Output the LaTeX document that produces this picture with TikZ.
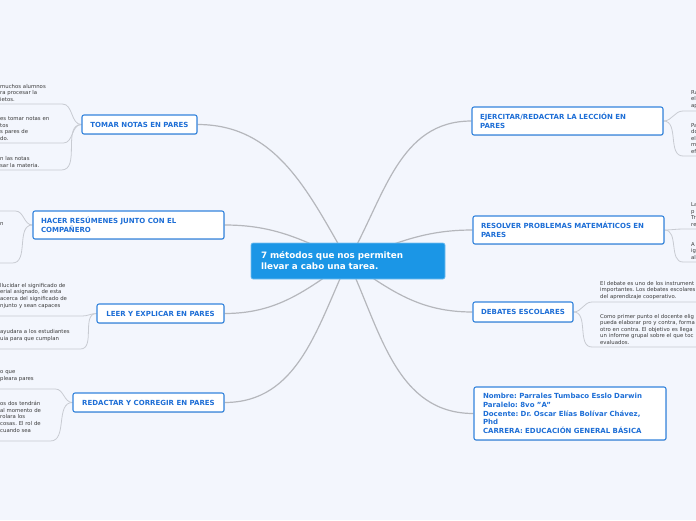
\documentclass[tikz,border=0pt]{standalone}
\usepackage{fontspec}
\setmainfont{DejaVu Sans}
\usepackage{xcolor}
\usetikzlibrary{positioning, backgrounds, shadows}
\frenchspacing

\definecolor{bgblue}{HTML}{F3F6FD}
\definecolor{boxline}{HTML}{3384DD}
\definecolor{boxtext}{HTML}{1D6ED6}
\definecolor{hubblue}{HTML}{1B96E6}
\definecolor{leafgray}{HTML}{3A3A3A}
\definecolor{branchgray}{HTML}{B5B7BC}
\definecolor{twiggray}{HTML}{C8CBD2}

\begin{document}
\begin{tikzpicture}[
    x=1pt, y=1pt,
    topic/.style={draw=boxline, line width=1.1pt, rounded corners=2pt, fill=white,
                  text=boxtext, font=\fontsize{7}{9}\selectfont\bfseries,
                  minimum width=#1, minimum height=19pt, inner xsep=8pt, inner ysep=4.5pt,
                  drop shadow={opacity=0.18, shadow xshift=0.5pt, shadow yshift=-0.9pt}},
    topic/.default=10pt,
    topictwo/.style={topic, text width=#1, align=left, minimum height=28pt},
    hub/.style={fill=hubblue, draw=hubblue!60!white, line width=0.6pt, rounded corners=2pt,
                text=white, font=\fontsize{8.8}{11}\selectfont\bfseries,
                text width=174pt, align=left, inner xsep=10pt, minimum height=36pt},
    leaf/.style={font=\fontsize{5.35}{6.6}\selectfont, text=leafgray, align=left,
                 inner xsep=8pt, inner ysep=2.2pt, anchor=south west},
    branch/.style={draw=branchgray, line width=1.2pt},
    twig/.style={draw=twiggray, line width=0.8pt}
]
\useasboundingbox (0,0) rectangle (696,-520);

% Central topic
\node[hub] (root) at (348,-261) {7 métodos que nos permiten\\llevar a cabo una tarea.};

% Left branches
\node[topic=115pt] (tomar) at (139.5,-124.5) {TOMAR NOTAS EN PARES};
\node[topictwo=175pt] (hacer) at (128.5,-225) {HACER RESÚMENES JUNTO CON EL\\COMPAÑERO};
\node[topic=127pt] (leer) at (160.5,-313.5) {LEER Y EXPLICAR EN PARES};
\node[topic=151pt] (redac) at (148.5,-402.5) {REDACTAR Y CORREGIR EN PARES};

% Right branches
\node[topictwo=175pt] (ejer) at (567.5,-121) {EJERCITAR/REDACTAR LA LECCIÓN EN\\PARES};
\node[topictwo=175pt] (resol) at (568.5,-230) {RESOLVER PROBLEMAS MATEMÁTICOS EN\\PARES};
\node[topic=100pt, minimum height=20pt] (debat) at (523,-312) {DEBATES ESCOLARES};
\node[topictwo=174pt, font=\fontsize{7}{8.6}\selectfont\bfseries, inner xsep=9pt,
      minimum height=53pt] (datos) at (570,-413.5)
     {Nombre: Parrales Tumbaco Esslo Darwin\\Paralelo: 8vo \symbol{34}A\symbol{34}\\Docente: Dr. Oscar Elías Bolívar Chávez,\\Phd\\CARRERA: EDUCACIÓN GENERAL BÁSICA};

% Notes on the left (cut by the page edge)
\node[leaf, text width=54pt] (tomA) at (-8,-104) {muchos alumnos\\ra procesar la\\ietos.};
\node[leaf, text width=55pt] (tomB) at (-8,-143) {es tomar notas en\\tos\\s pares de\\do.};
\node[leaf, text width=53pt] (tomC) at (-8,-170) {n las notas\\sar la materia.};
\node[leaf, text width=7pt] (hacA) at (-8,-211) {};
\node[leaf, text width=4pt] (hacB) at (-8,-263) {n\\[29pt]\mbox{}};
\node[leaf, text width=74pt] (leeA) at (-8,-316) {llucidar el significado de\\erial asignado, de esta\\acerca del significado de\\njunto y sean capaces\\\mbox{}};
\node[leaf, text width=72pt] (leeB) at (-8,-349) {ayudara a los estudiantes\\uia para que cumplan\\\mbox{}};
\node[leaf, text width=47pt] (redA) at (-8,-389) {o que\\pleara pares\\\mbox{}};
\node[leaf, text width=42pt] (redB) at (-8,-441) {os dos tendrán\\al momento de\\rolara los\\cosas. El rol de\\cuando sea\\\mbox{}};

% Notes on the right (cut by the page edge)
\node[leaf, text width=200pt] (ejeA) at (683,-111) {Ra\\el\\ap};
\node[leaf, text width=200pt] (ejeB) at (683,-156) {Pa\\do\\el\\m\\ef};
\node[leaf, text width=200pt] (resA) at (683,-229) {La\\p\\Tr\\re};
\node[leaf, text width=200pt] (resB) at (683,-262) {A\\ig\\al};
\node[leaf, text width=200pt] (debA) at (592,-302) {El debate es uno de los instrument\\importantes. Los debates escolares\\del aprendizaje cooperativo.};
\node[leaf, text width=200pt] (debB) at (592,-347) {Como primer punto el docente elig\\pueda elaborar pro y contra, forma\\otro en contra. El objetivo es llega\\un informe grupal sobre el que toc\\evaluados.};

\begin{scope}[on background layer]
\fill[bgblue] (0,0) rectangle (696,-520);
% Branches from the hub
\draw[branch] (root.center) to[out=120, in=0] (tomar.east);
\draw[branch] (root.center) to[out=155, in=0] (hacer.east);
\draw[branch] (root.center) to[out=215, in=0] (leer.east);
\draw[branch] (root.center) to[out=245, in=0] (redac.east);
\draw[branch] (root.center) to[out=60, in=180] (ejer.west);
\draw[branch] (root.center) to[out=20, in=180] (resol.west);
\draw[branch] (root.center) to[out=-35, in=180] (debat.west);
\draw[branch] (root.center) to[out=-65, in=180] (datos.west);

% Twigs to the notes
\draw[twig] (tomA.south west) -- (tomA.south east) to[out=0, in=180] (tomar.west);
\draw[twig] (tomB.south west) -- (tomB.south east) to[out=0, in=180] (tomar.west);
\draw[twig] (tomC.south west) -- (tomC.south east) to[out=0, in=180] (tomar.west);
\draw[twig] (hacA.south west) -- (hacA.south east) to[out=0, in=180] (hacer.west);
\draw[twig] (hacB.south west) -- (hacB.south east) to[out=0, in=180] (hacer.west);
\draw[twig] (leeA.south west) -- (leeA.south east) to[out=0, in=180] (leer.west);
\draw[twig] (leeB.south west) -- (leeB.south east) to[out=0, in=180] (leer.west);
\draw[twig] (redA.south west) -- (redA.south east) to[out=0, in=180] (redac.west);
\draw[twig] (redB.south west) -- (redB.south east) to[out=0, in=180] (redac.west);
\draw[twig] (ejer.east) to[out=0, in=180] (ejeA.south west) -- (ejeA.south east);
\draw[twig] (ejer.east) to[out=0, in=180] (ejeB.south west) -- (ejeB.south east);
\draw[twig] (resol.east) to[out=0, in=180] (resA.south west) -- (resA.south east);
\draw[twig] (resol.east) to[out=0, in=180] (resB.south west) -- (resB.south east);
\draw[twig] (debat.east) to[out=0, in=180] (debA.south west) -- (debA.south east);
\draw[twig] (debat.east) to[out=0, in=180] (debB.south west) -- (debB.south east);
\end{scope}
\end{tikzpicture}
\end{document}
